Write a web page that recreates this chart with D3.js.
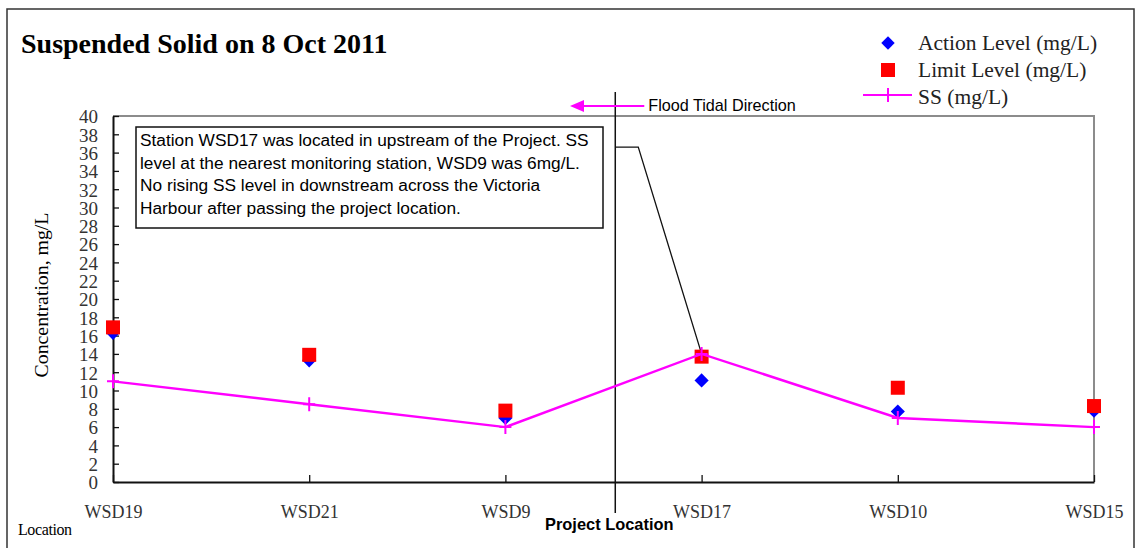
<!DOCTYPE html>
<html>
<head>
<meta charset="utf-8">
<script src="https://d3js.org/d3.v7.min.js"></script>
<style>
  body { margin: 0; background: #fff; }
  svg { display: block; }
  .serif { font-family: "Liberation Serif", "Times New Roman", serif; }
  .sans { font-family: "Liberation Sans", Arial, sans-serif; }
</style>
</head>
<body>
<svg id="chart" width="1136" height="548"></svg>
<script>
// data
var stations = ["WSD19", "WSD21", "WSD9", "WSD17", "WSD10", "WSD15"];
var actionLevel = [16.3, 13.3, 7.0, 11.1, 7.7, 7.8];
var limitLevel = [16.9, 13.9, 7.8, 13.7, 10.3, 8.3];
var ssValues = [11, 8.5, 6, 14, 7, 6];
var yTicks = d3.range(0, 41, 2);
var noteLines = [
  "Station WSD17 was located in upstream of the Project. SS",
  "level at the nearest monitoring station, WSD9 was 6mg/L.",
  "No rising SS level in downstream across the Victoria",
  "Harbour after passing the project location."
];

var svg = d3.select("#chart");

var margin = {top: 116, right: 42, bottom: 66, left: 113};
var width = 1136, height = 548;

var x = d3.scalePoint()
  .domain(stations)
  .range([margin.left, width - margin.right])
  .padding(0);

var y = d3.scaleLinear()
  .domain([0, 40])
  .range([height - margin.bottom, margin.top]);

// outer frame
svg.append("rect")
  .attr("x", 7).attr("y", 9)
  .attr("width", 1127).attr("height", 560)
  .attr("fill", "none")
  .attr("stroke", "#333")
  .attr("stroke-width", 1.5);

// title
svg.append("text")
  .attr("class", "serif")
  .attr("x", 21).attr("y", 53)
  .attr("font-size", 28)
  .attr("font-weight", "bold")
  .text("Suspended Solid on 8 Oct 2011");

// plot frame top and right (gray)
svg.append("path")
  .attr("d", "M" + x.range()[0] + "," + y(40) + "H" + x.range()[1] + "V" + y(0))
  .attr("fill", "none")
  .attr("stroke", "#8c8c8c")
  .attr("stroke-width", 2);

// axes
var yAxis = d3.axisLeft(y)
  .tickValues(yTicks)
  .tickSizeInner(-6)
  .tickSizeOuter(0)
  .tickPadding(15);

var xAxis = d3.axisBottom(x)
  .tickSizeInner(-7)
  .tickSizeOuter(0)
  .tickPadding(23);

var gy = svg.append("g")
  .attr("transform", "translate(" + margin.left + ",0)")
  .call(yAxis);

var gx = svg.append("g")
  .attr("transform", "translate(0," + y(0) + ")")
  .call(xAxis);

[gx, gy].forEach(function(g) {
  g.select(".domain").attr("stroke", "#111").attr("stroke-width", 2);
  g.selectAll(".tick line").attr("stroke", "#111").attr("stroke-width", 1.3);
  g.selectAll(".tick text")
    .attr("class", "serif")
    .attr("font-size", 18)
    .attr("fill", "#333");
});
gy.selectAll(".tick text").attr("font-size", 19).attr("dy", "0.36em");

// axis titles
svg.append("text")
  .attr("class", "serif")
  .attr("transform", "translate(48," + 295 + ") rotate(-90)")
  .attr("text-anchor", "middle")
  .attr("font-size", 19.8)
  .text("Concentration, mg/L");

svg.append("text")
  .attr("class", "serif")
  .attr("x", 18).attr("y", 535)
  .attr("font-size", 16)
  .attr("letter-spacing", -0.4)
  .text("Location");

// project location line
var projectX = x("WSD9") + (x("WSD17") - x("WSD9")) * 0.56;

svg.append("line")
  .attr("x1", projectX).attr("x2", projectX)
  .attr("y1", 92).attr("y2", 513)
  .attr("stroke", "#111")
  .attr("stroke-width", 1.5);

svg.append("text")
  .attr("class", "sans")
  .attr("x", projectX - 6).attr("y", 530)
  .attr("text-anchor", "middle")
  .attr("font-size", 16.4)
  .attr("font-weight", "bold")
  .text("Project Location");

// flood tidal direction arrow
svg.append("line")
  .attr("x1", projectX + 29).attr("x2", 578)
  .attr("y1", 106).attr("y2", 106)
  .attr("stroke", "#ff00ff")
  .attr("stroke-width", 1.8);
svg.append("path")
  .attr("d", "M570,106 L584,100 L584,112 Z")
  .attr("fill", "#ff00ff");

svg.append("text")
  .attr("class", "sans")
  .attr("x", projectX + 33).attr("y", 111)
  .attr("font-size", 16.2)
  .text("Flood Tidal Direction");

// note box
svg.append("rect")
  .attr("x", 136).attr("y", 127)
  .attr("width", 467).attr("height", 101)
  .attr("fill", "#fff")
  .attr("stroke", "#111")
  .attr("stroke-width", 1.5);

svg.append("g").selectAll("text")
  .data(noteLines)
  .join("text")
  .attr("class", "sans")
  .attr("x", 140)
  .attr("y", function(d, i) { return 146 + i * 22.7; })
  .attr("font-size", 17.3)
  .text(function(d) { return d; });

// callout line to WSD17
var calloutY = y(36.6);
svg.append("path")
  .attr("d", "M" + projectX + "," + calloutY +
             "H" + (projectX + 23) +
             "L" + x("WSD17") + "," + y(ssValues[3]))
  .attr("fill", "none")
  .attr("stroke", "#111")
  .attr("stroke-width", 1.3);

// markers
svg.append("g").selectAll("path")
  .data(actionLevel)
  .join("path")
  .attr("d", d3.symbol().type(d3.symbolSquare).size(100))
  .attr("transform", function(d, i) {
    return "translate(" + x(stations[i]) + "," + y(d) + ") rotate(45)";
  })
  .attr("fill", "#0000ff");

svg.append("g").selectAll("rect")
  .data(limitLevel)
  .join("rect")
  .attr("x", function(d, i) { return x(stations[i]) - 7; })
  .attr("y", function(d) { return y(d) - 7; })
  .attr("width", 14).attr("height", 14)
  .attr("fill", "#ff0000");

var line = d3.line()
  .x(function(d, i) { return x(stations[i]); })
  .y(function(d) { return y(d); });

svg.append("path")
  .datum(ssValues)
  .attr("d", line)
  .attr("fill", "none")
  .attr("stroke", "#ff00ff")
  .attr("stroke-width", 2.4);

svg.append("g").selectAll("path")
  .data(ssValues)
  .join("path")
  .attr("d", function(d, i) {
    var cx = x(stations[i]), cy = y(d);
    return "M" + (cx - 6) + "," + cy + "H" + (cx + 6) + "M" + cx + "," + (cy - 7) + "V" + (cy + 7);
  })
  .attr("stroke", "#ff00ff")
  .attr("stroke-width", 2);

// legend
var legend = svg.append("g").attr("class", "serif");

legend.append("path")
  .attr("d", d3.symbol().type(d3.symbolSquare).size(90))
  .attr("transform", "translate(888,43) rotate(45)")
  .attr("fill", "#0000ff");
legend.append("rect")
  .attr("x", 881).attr("y", 63)
  .attr("width", 14).attr("height", 14)
  .attr("fill", "#ff0000");
legend.append("line")
  .attr("x1", 863).attr("x2", 912)
  .attr("y1", 95).attr("y2", 95)
  .attr("stroke", "#ff00ff").attr("stroke-width", 2.2);
legend.append("line")
  .attr("x1", 888).attr("x2", 888)
  .attr("y1", 88).attr("y2", 102)
  .attr("stroke", "#ff00ff").attr("stroke-width", 2);

legend.selectAll("text")
  .data(["Action Level (mg/L)", "Limit Level (mg/L)", "SS (mg/L)"])
  .join("text")
  .attr("x", 918)
  .attr("y", function(d, i) { return 50 + i * 27; })
  .attr("font-size", 21.5)
  .attr("fill", "#222")
  .text(function(d) { return d; });
</script>
</body>
</html>
